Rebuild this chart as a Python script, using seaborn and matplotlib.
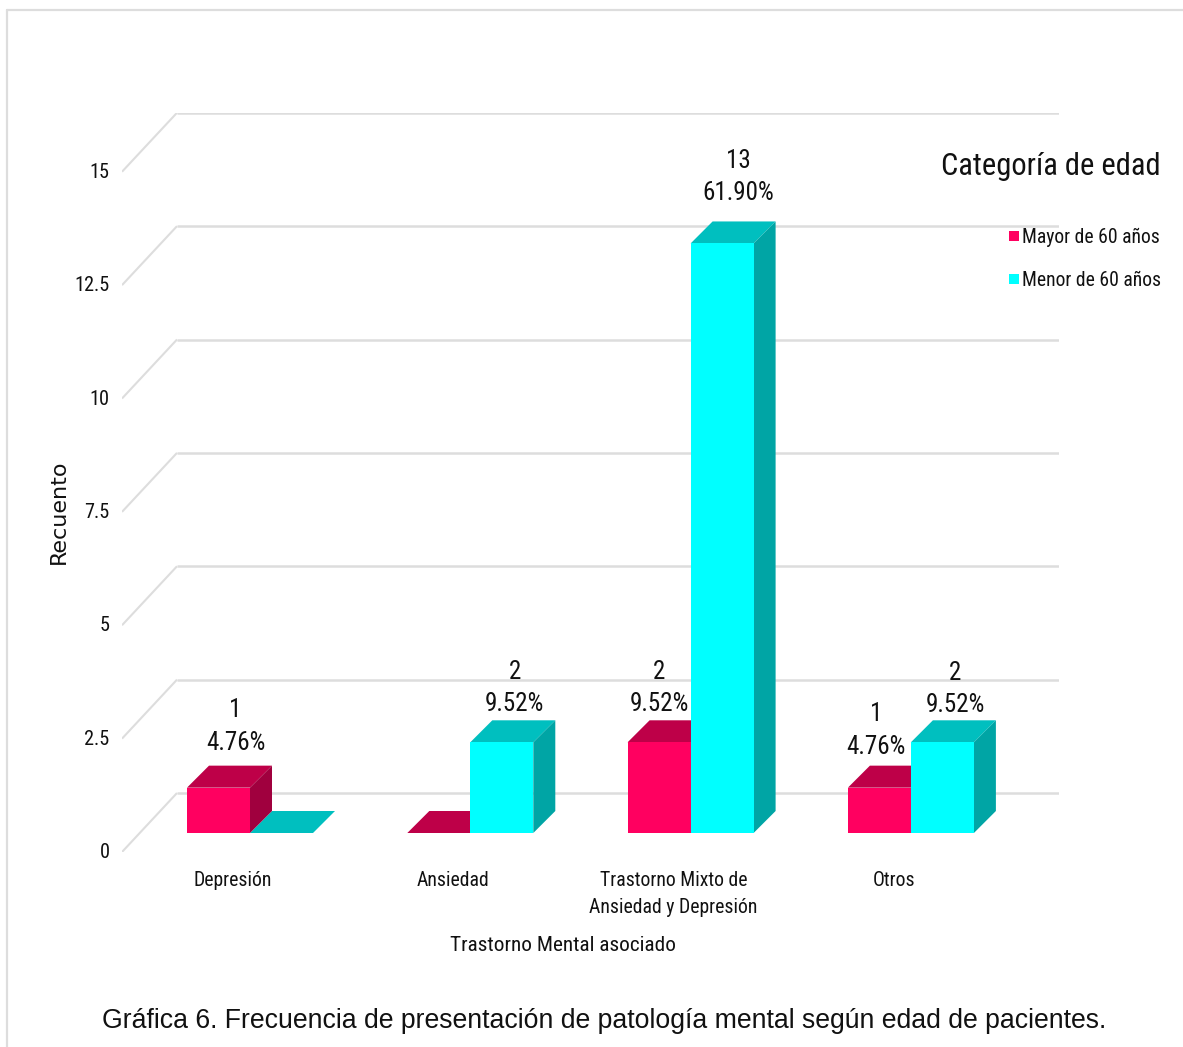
import matplotlib
matplotlib.use("Agg")
import matplotlib.pyplot as plt
from matplotlib.lines import Line2D
from matplotlib.patches import Polygon
from matplotlib.transforms import ScaledTranslation
import pandas as pd
import seaborn as sns

trastornos = ["Depresión", "Ansiedad", "Trastorno Mixto de\nAnsiedad y Depresión", "Otros"]
mayor_60 = [1, 0, 2, 1]
menor_60 = [0, 2, 13, 2]
pct_mayor = ["4.76%", None, "9.52%", "4.76%"]
pct_menor = [None, "9.52%", "61.90%", "9.52%"]
grupos = ["Mayor de 60 años", "Menor de 60 años"]
yticks = [0, 2.5, 5, 7.5, 10, 12.5, 15]
ytick_labels = ["0", "2.5", "5", "7.5", "10", "12.5", "15"]

# Face colours: front, top, side
caras = {
    grupos[0]: ("#FF0060", "#BE0048", "#A0003E"),
    grupos[1]: ("#00FFFF", "#00BFBF", "#00A5A5"),
}

W, H = 1183, 1047
PX_UNIT = 45.35      # pixels per count
PX_CAT = 220.3       # pixels per category
BAR_DEPTH = 22       # depth of a bar in pixels (both directions)
WALL_DX, WALL_DY = 55, 59     # depth of the floor in pixels
FRONT_DX, FRONT_DY = 17, 19   # bar baseline relative to the floor's front edge
L, R, B, T = 122, 1059, 852, 113   # plot rectangle, pixels from top-left

sns.set_theme(style="white")
NARROW = "Roboto Condensed"
SANS = "Liberation Sans"
plt.rcParams["font.family"] = [NARROW, "DejaVu Sans"]

fig = plt.figure(figsize=(W / 100, H / 100), dpi=100, facecolor="white")
rect = [L / W, 1 - B / H, (R - L) / W, (B - T) / H]

# Axes on the bars' plane
ax = fig.add_axes(rect, facecolor="none", zorder=2)
x_left = -(250 - L) / PX_CAT
x_right = x_left + (R - L) / PX_CAT
y_bottom = -FRONT_DY / PX_UNIT
y_top = y_bottom + (B - T) / PX_UNIT

df = pd.DataFrame({
    "trastorno": trastornos * 2,
    "recuento": mayor_60 + menor_60,
    "edad": [grupos[0]] * 4 + [grupos[1]] * 4,
})
sns.barplot(data=df, x="trastorno", y="recuento", hue="edad", hue_order=grupos,
            palette={g: caras[g][0] for g in grupos}, saturation=1,
            width=126 / PX_CAT, gap=0, dodge=True, linewidth=0, ax=ax, legend=True)
ax.set_xlim(x_left, x_right)
ax.set_ylim(y_bottom, y_top)
ax.set_xlabel("")
ax.set_ylabel("")
ax.set_xticks([])
ax.set_yticks([])
sns.despine(ax=ax, left=True, bottom=True)

ddx, ddy = BAR_DEPTH / PX_CAT, BAR_DEPTH / PX_UNIT
desp_etiqueta = {
    grupos[0]: [(17, 33), (0, 0), (0, 26), (-3, 29)],
    grupos[1]: [(0, 0), (13, 26), (16, 38), (13, 25)],
}
pcts = {grupos[0]: pct_mayor, grupos[1]: pct_menor}
for cont, grupo in zip(ax.containers, grupos):
    _, tope, lado = caras[grupo]
    for i, bar in enumerate(cont):
        x0, w, h = bar.get_x(), bar.get_width(), bar.get_height()
        z = 3 + h / 100
        bar.set_zorder(z + 0.002)
        ax.add_patch(Polygon([(x0, h), (x0 + w, h), (x0 + w + ddx, h + ddy), (x0 + ddx, h + ddy)],
                             closed=True, fc=tope, ec="none", zorder=z))
        ax.add_patch(Polygon([(x0 + w, 0), (x0 + w + ddx, ddy), (x0 + w + ddx, h + ddy), (x0 + w, h)],
                             closed=True, fc=lado, ec="none", zorder=z + 0.001))
        if pcts[grupo][i]:
            dx, dy = desp_etiqueta[grupo][i]
            ax.annotate(f"{int(h)}\n{pcts[grupo][i]}", (x0 + w / 2, h), xytext=(dx * .72, dy * .72),
                        textcoords="offset points", ha="center", va="bottom",
                        fontsize=18, color="#111111", linespacing=1.45, zorder=10)

# Axes on the floor's front edge: carries the tick labels
front = fig.add_axes(rect, facecolor="none", zorder=1)
front.set_xlim(x_left + FRONT_DX / PX_CAT, x_right + FRONT_DX / PX_CAT)
front.set_ylim(0, (B - T) / PX_UNIT)
front.set_yticks(yticks, ytick_labels)
front.set_xticks(range(4), trastornos)
front.tick_params(axis="y", length=0, pad=9, labelsize=14.6, labelcolor="#111111")
front.tick_params(axis="x", length=0, pad=13.7, labelsize=14.2, labelcolor="#111111")
for lab in front.get_xticklabels():
    lab.set_linespacing(1.5)
# Value labels sit slightly above the end of each side-wall line
subir = ScaledTranslation(0, 1.5 / 100, fig.dpi_scale_trans)
for lab in front.get_yticklabels():
    lab.set_transform(lab.get_transform() + subir)
sns.despine(ax=front, left=True, bottom=True)
front.set_xlabel("Trastorno Mental asociado", fontsize=15.3, color="#111111",
                 x=(563 - L) / (R - L), labelpad=14)
front.set_ylabel("Recuento", fontsize=16, color="#111111", family="DejaVu Sans")
front.yaxis.set_label_coords((69 - L) / (R - L), (B - 512) / (B - T))

# Back wall and side wall lines
GRID = "#DDDDDD"
wall_dx = WALL_DX / (R - L)
for v in yticks:
    y1 = v + WALL_DY / PX_UNIT
    front.plot([0, wall_dx], [v, y1], color=GRID, lw=1.5,
               transform=front.get_yaxis_transform(), solid_capstyle="butt", zorder=0)
    front.plot([wall_dx, 1], [y1, y1], color=GRID, lw=1.8,
               transform=front.get_yaxis_transform(), solid_capstyle="butt", zorder=0)

# Legend
sns.move_legend(ax, "upper right", bbox_to_anchor=(1160.5 / W, 1 - 152 / H),
                bbox_transform=fig.transFigure, title="Categoría de edad", frameon=False,
                fontsize=14.1, title_fontsize=22, handlelength=0.51, handleheight=0.41,
                handletextpad=0.12, labelspacing=1.25, borderpad=0, borderaxespad=0,
                alignment="right")
leg = ax.get_legend()
leg._legend_box.sep = 33.5
for t in leg.get_texts():
    t.set_color("#111111")
leg.get_title().set_color("#111111")
leg.set_zorder(20)

# Outer frame of the graphic
frame_kw = dict(color="#DDDDDD", lw=1.6, transform=fig.transFigure)
fig.add_artist(Line2D([7 / W, 1], [1 - 10 / H, 1 - 10 / H], **frame_kw))
fig.add_artist(Line2D([7 / W, 7 / W], [1 - 10 / H, 0], **frame_kw))

fig.text(604 / W, 1 - 1021 / H, "Gráfica 6. Frecuencia de presentación de patología mental según edad de pacientes.",
         family=SANS, fontsize=19.13, color="#111111", ha="center", va="center")

fig.savefig("out.png", dpi=100)
